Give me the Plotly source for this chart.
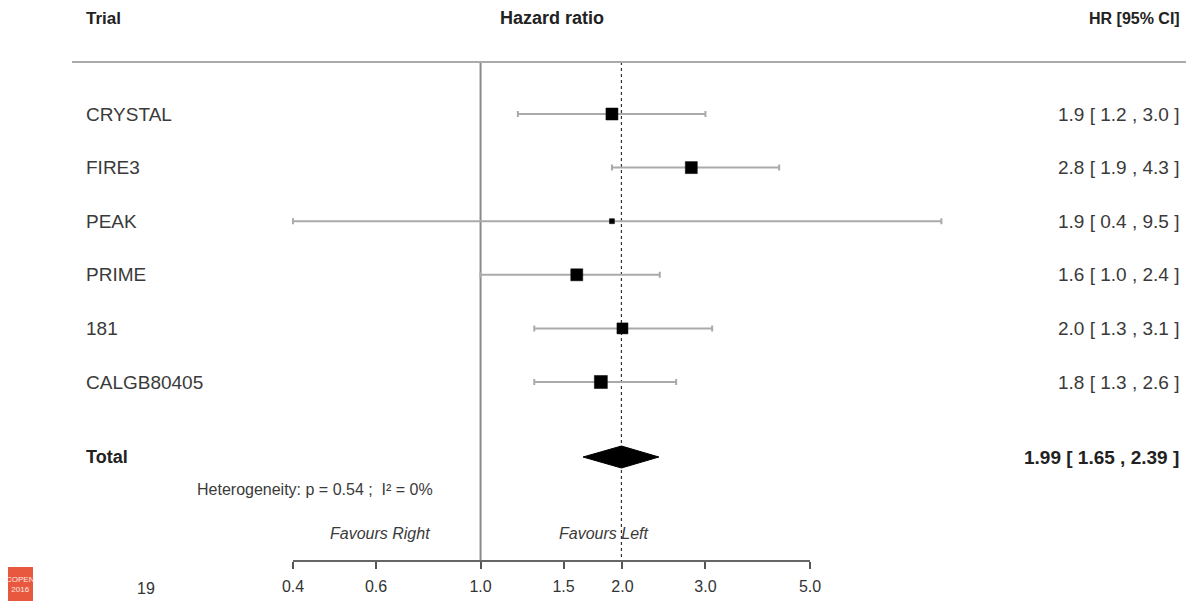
import math
import plotly.graph_objects as go

# ---------------- data ----------------
trials = ["CRYSTAL", "FIRE3", "PEAK", "PRIME", "181", "CALGB80405"]
hr = [1.9, 2.8, 1.9, 1.6, 2.0, 1.8]
ci_low = [1.2, 1.9, 0.4, 1.0, 1.3, 1.3]
ci_high = [3.0, 4.3, 9.5, 2.4, 3.1, 2.6]
box_size = [12, 12, 5, 12, 11, 13]

total_label = "Total"
total_hr = 1.99
total_low = 1.65
total_high = 2.39

tick_vals = [0.4, 0.6, 1.0, 1.5, 2.0, 3.0, 5.0]
tick_text = ["0.4", "0.6", "1.0", "1.5", "2.0", "3.0", "5.0"]

heterogeneity = "Heterogeneity: p = 0.54 ;  I² = 0%"
favours_right = "Favours Right"
favours_left = "Favours Left"
headers = ["Trial", "Hazard ratio", "HR [95% CI]"]

# ---------------- layout geometry ----------------
W, H = 1186, 603
ROW0_PX, ROW_STEP = 114, 53.6
def ypx(p):
    return (p - ROW0_PX) / ROW_STEP

AX_L_PX, AX_R_PX = 293, 810
lmin, lmax = math.log10(tick_vals[0]), math.log10(tick_vals[-1])
pxdec = (AX_R_PX - AX_L_PX) / (lmax - lmin)
x_range = [lmin - AX_L_PX / pxdec, lmax + (W - AX_R_PX) / pxdec]

rows_y = list(range(len(trials)))
total_y = ypx(457)
het_y = ypx(489)
fav_y = ypx(533)
axis_y = ypx(560)
top_y = ypx(62)
head_y = ypx(18)

FONT = "Liberation Sans, Arial, sans-serif"
TXT = "#3a3a3a"

fig = go.Figure()

# reference lines
fig.add_trace(go.Scatter(x=[1, 1], y=[top_y, axis_y], mode="lines",
                         line=dict(color="#8a8a8a", width=2), hoverinfo="skip"))
fig.add_trace(go.Scatter(x=[total_hr, total_hr], y=[top_y, axis_y], mode="lines",
                         line=dict(color="#333", width=1.2, dash="3px,3px"), hoverinfo="skip"))

# study CIs
fig.add_trace(go.Scatter(
    x=hr, y=rows_y, mode="markers",
    marker=dict(size=1, opacity=0),
    error_x=dict(type="data", symmetric=False,
                 array=[h - v for h, v in zip(ci_high, hr)],
                 arrayminus=[v - l for v, l in zip(hr, ci_low)],
                 color="#aaaaaa", thickness=2, width=3),
    hoverinfo="skip"))
# study boxes
fig.add_trace(go.Scatter(
    x=hr, y=rows_y, mode="markers",
    marker=dict(symbol="square", size=box_size, color="#000000", opacity=1,
                line=dict(width=0.5, color="#000000")),
    hoverinfo="skip"))

# total diamond
dh = 11 / ROW_STEP
fig.add_trace(go.Scatter(
    x=[total_low, total_hr, total_high, total_hr, total_low],
    y=[total_y, total_y - dh, total_y, total_y + dh, total_y],
    mode="lines", fill="toself", fillcolor="black",
    line=dict(color="black", width=1), hoverinfo="skip"))

# dummy trace for bottom axis subplot
fig.add_trace(go.Scatter(x=[1], y=[0], xaxis="x2", yaxis="y2", mode="markers",
                         marker=dict(opacity=0), hoverinfo="skip"))

ann = []
def A(text, xpx, y, anchor="left", size=17, bold=False, italic=False, color=TXT, yref="y"):
    t = text
    if bold:
        t = "<b>" + t + "</b>"
    if italic:
        t = "<i>" + t + "</i>"
    ann.append(dict(text=t, x=xpx / W, xref="paper", y=y, yref=yref,
                    xanchor=anchor, yanchor="middle", showarrow=False,
                    font=dict(family=FONT, size=size, color=color)))

A(headers[0], 84, head_y, "left", 17, bold=True, color="#222")
A(headers[1], 552, head_y, "center", 18, bold=True, color="#222")
A(headers[2], 1182, head_y, "right", 16, bold=True, color="#222")

for i, name in enumerate(trials):
    A(name, 84, rows_y[i], "left", 19)
    A(f"{hr[i]:.1f} [ {ci_low[i]:.1f} , {ci_high[i]:.1f} ]", 1181, rows_y[i], "right", 19)

A(total_label, 84, total_y, "left", 18, bold=True, color="#222")
A(f"{total_hr:.2f} [ {total_low:.2f} , {total_high:.2f} ]", 1181, total_y, "right", 19,
  bold=True, color="#222")
A(heterogeneity, 315, het_y, "center", 16)
A(favours_right, 380, fav_y, "center", 16, italic=True)
A(favours_left, 604, fav_y, "center", 16, italic=True)
A("19", 146, ypx(588), "center", 16, color="#333")

# logo
ann.append(dict(text="COPEN<br>2016", x=20.5 / W, xref="paper", y=ypx(584), yref="y",
                xanchor="center", yanchor="middle", showarrow=False,
                font=dict(family=FONT, size=8, color="#ffe8e0")))

shapes = [
    dict(type="line", xref="paper", yref="paper", x0=72 / W, x1=1,
         y0=1 - 62 / H, y1=1 - 62 / H, line=dict(color="#aaaaaa", width=2)),
    dict(type="rect", xref="paper", yref="paper", x0=8 / W, x1=33 / W,
         y0=1 - 601 / H, y1=1 - 567 / H, fillcolor="#e8583e", line=dict(width=0),
         layer="below"),
]

axis_paper = 1 - 560 / H
fig.update_layout(
    template="none",
    width=W, height=H, margin=dict(l=0, r=0, t=0, b=0, pad=0),
    autosize=False,
    paper_bgcolor="white", plot_bgcolor="rgba(0,0,0,0)",
    showlegend=False,
    xaxis=dict(type="log", range=x_range, visible=False, domain=[0, 1], automargin=False),
    yaxis=dict(range=[ypx(H), ypx(0)], visible=False, domain=[0, 1], automargin=False),
    xaxis2=dict(type="log", domain=[AX_L_PX / W, AX_R_PX / W],
                range=[lmin, lmax], anchor="y2", automargin=False,
                tickvals=tick_vals, ticktext=tick_text,
                showline=True, linecolor="#666", linewidth=1.5,
                ticks="outside", ticklen=7, tickwidth=1.5, tickcolor="#555",
                ticklabelstandoff=4,
                tickfont=dict(family=FONT, size=16, color="#333"),
                showgrid=False, zeroline=False),
    yaxis2=dict(domain=[axis_paper, axis_paper + 0.02], visible=False,
                range=[0, 1], automargin=False),
    annotations=ann, shapes=shapes,
)

fig.write_html("out.html", config={"displayModeBar": False})
